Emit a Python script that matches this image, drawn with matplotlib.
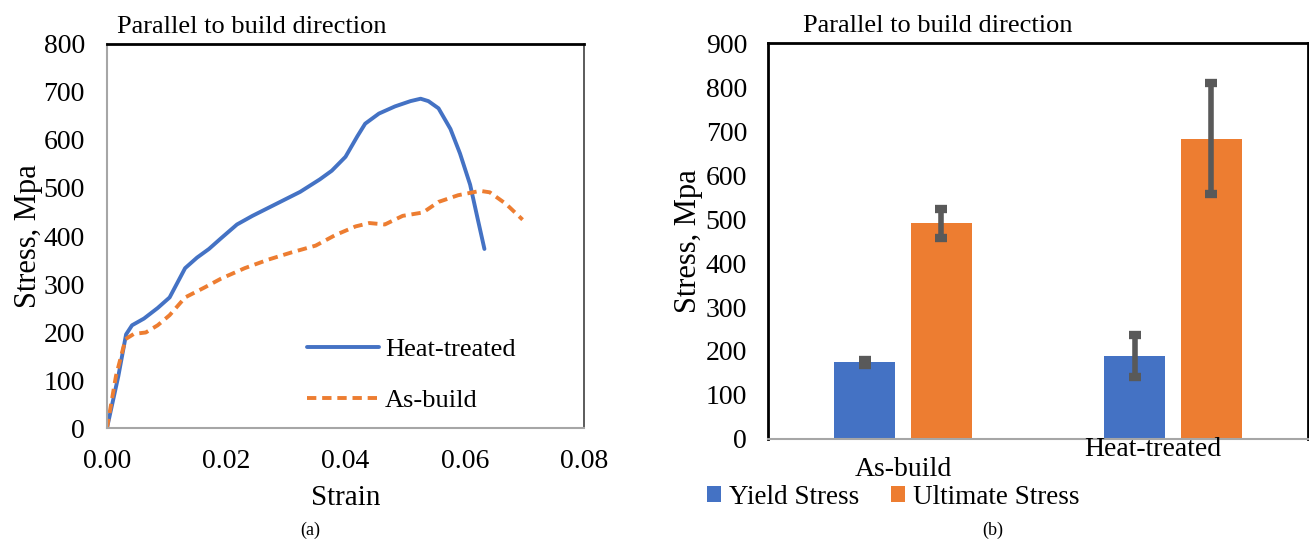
import matplotlib
matplotlib.use("Agg")
import numpy as np
import matplotlib.pyplot as plt
import matplotlib.transforms as mtransforms

plt.rcParams['font.family'] = ['Liberation Serif', 'DejaVu Serif']

BLUE = '#4472C4'
ORANGE = '#ED7D31'
ERR = '#595959'

# (a) stress-strain curves
heat_strain = [0, 0.0019, 0.0032, 0.0042, 0.0062, 0.0085, 0.0105, 0.0131, 0.0151,
               0.0171, 0.0191, 0.0218, 0.0244, 0.0284, 0.0324, 0.0357, 0.0377,
               0.0400, 0.0420, 0.0433, 0.0456, 0.0483, 0.0509, 0.0526, 0.0539,
               0.0556, 0.0576, 0.0592, 0.0609, 0.0622, 0.0633]
heat_stress = [0, 108, 195, 214, 228, 250, 272, 333, 355, 373, 395, 424, 442, 467,
               492, 518, 536, 565, 608, 634, 655, 670, 681, 686, 681, 666, 623,
               572, 507, 434, 373]
asb_strain = [0, 0.0015, 0.0031, 0.0045, 0.0065, 0.0085, 0.0105, 0.0131, 0.0164,
              0.0191, 0.0231, 0.0271, 0.0310, 0.0350, 0.0383, 0.0417, 0.0440,
              0.0466, 0.0496, 0.0530, 0.0556, 0.0589, 0.0626, 0.0642, 0.0669, 0.0697]
asb_stress = [0, 108, 185, 196, 199, 214, 235, 272, 293, 311, 333, 351, 366, 380,
              402, 420, 427, 424, 442, 449, 471, 485, 494, 491, 467, 434]

# (b) yield / ultimate stress with error bars
conditions = ['As-build', 'Heat-treated']
yield_stress = [174, 189]
yield_err = [5, 48]
ult_stress = [490, 682]
ult_err = [33, 126]

fig = plt.figure(figsize=(13.09, 5.46), dpi=100)

# ---------- (a) ----------
ax1 = fig.add_axes([107/1309, 1-428/546, 477/1309, 384/546])
ax1.plot(heat_strain, heat_stress, color=BLUE, lw=2.8, label='Heat-treated',
         solid_capstyle='round', solid_joinstyle='round')
ax1.plot(asb_strain, asb_stress, color=ORANGE, lw=2.8, linestyle=(0, (2.4, 1.5)),
         label='As-build')
ax1.set_xlim(0, 0.08)
ax1.set_ylim(0, 800)
ax1.set_xticks(np.arange(0, 0.081, 0.02))
ax1.set_xticklabels([f'{v:.2f}' for v in np.arange(0, 0.081, 0.02)])
ax1.set_yticks(range(0, 801, 100))
ax1.tick_params(length=0, labelsize=20)
ax1.tick_params(axis='y', pad=16)
ax1.tick_params(axis='x', pad=15)
for s in ('left', 'bottom'):
    ax1.spines[s].set_color('#A6A6A6')
    ax1.spines[s].set_linewidth(1.5)
ax1.spines['top'].set_color('black')
ax1.spines['top'].set_linewidth(2)
ax1.spines['right'].set_color('#404040')
ax1.spines['right'].set_linewidth(1.2)
ax1.set_xlabel('Strain', fontsize=21, labelpad=8)
ax1.set_ylabel('Stress, Mpa', fontsize=22, labelpad=0)
ax1.set_title('Parallel to build direction', fontsize=19, loc='left', x=0.02, pad=8)
ax1.legend(loc='center left', bbox_to_anchor=(0.42, 0.139), frameon=False, fontsize=19,
           handlelength=2.7, handletextpad=0.25, labelspacing=1.05,
           borderaxespad=0, borderpad=0)
fig.text(310/1309, 1-530/546, '(a)', fontsize=13, ha='center', va='center')

# ---------- (b) ----------
ax2 = fig.add_axes([768/1309, 1-439/546, 540/1309, 396/546])
x = np.arange(len(conditions))
w = 0.226
off = 0.141
ekw = dict(elinewidth=4, capthick=6, ecolor=ERR)
ax2.bar(x - off, yield_stress, w, color=BLUE, label='Yield Stress',
        yerr=yield_err, capsize=4.5, error_kw=ekw)
ax2.bar(x + off, ult_stress, w, color=ORANGE, label='Ultimate Stress',
        yerr=ult_err, capsize=4.5, error_kw=ekw)
ax2.set_xlim(-0.5, 1.5)
ax2.set_ylim(0, 900)
ax2.set_yticks(range(0, 901, 100))
ax2.set_xticks([])
ax2.tick_params(length=0, labelsize=20)
ax2.tick_params(axis='y', pad=15)
ax2.spines['bottom'].set_color('#A6A6A6')
ax2.spines['bottom'].set_linewidth(1.5)
for s in ('top', 'left', 'right'):
    ax2.spines[s].set_color('black')
    ax2.spines[s].set_linewidth(2)
ax2.set_ylabel('Stress, Mpa', fontsize=22, labelpad=2)
ax2.set_title('Parallel to build direction', fontsize=19, loc='left', x=0.065, pad=8)

# staggered category labels as in the original
trans = mtransforms.blended_transform_factory(ax2.transData, fig.transFigure)
ax2.text(x[0], 1-470/546, conditions[0], transform=trans, fontsize=20,
         ha='center', va='center')
ax2.text(x[1] - 0.075, 1-449/546, conditions[1], transform=trans, fontsize=20,
         ha='center', va='center')

ax2.legend(loc='center left', bbox_to_anchor=(707/1309, 1-497/546),
           bbox_transform=fig.transFigure, ncol=2, frameon=False, fontsize=19.5,
           handlelength=0.5, handleheight=0.5, handletextpad=0.3,
           columnspacing=1.2, borderaxespad=0, borderpad=0)
fig.text(993/1309, 1-530/546, '(b)', fontsize=13, ha='center', va='center')

fig.savefig('out.png', dpi=100)
